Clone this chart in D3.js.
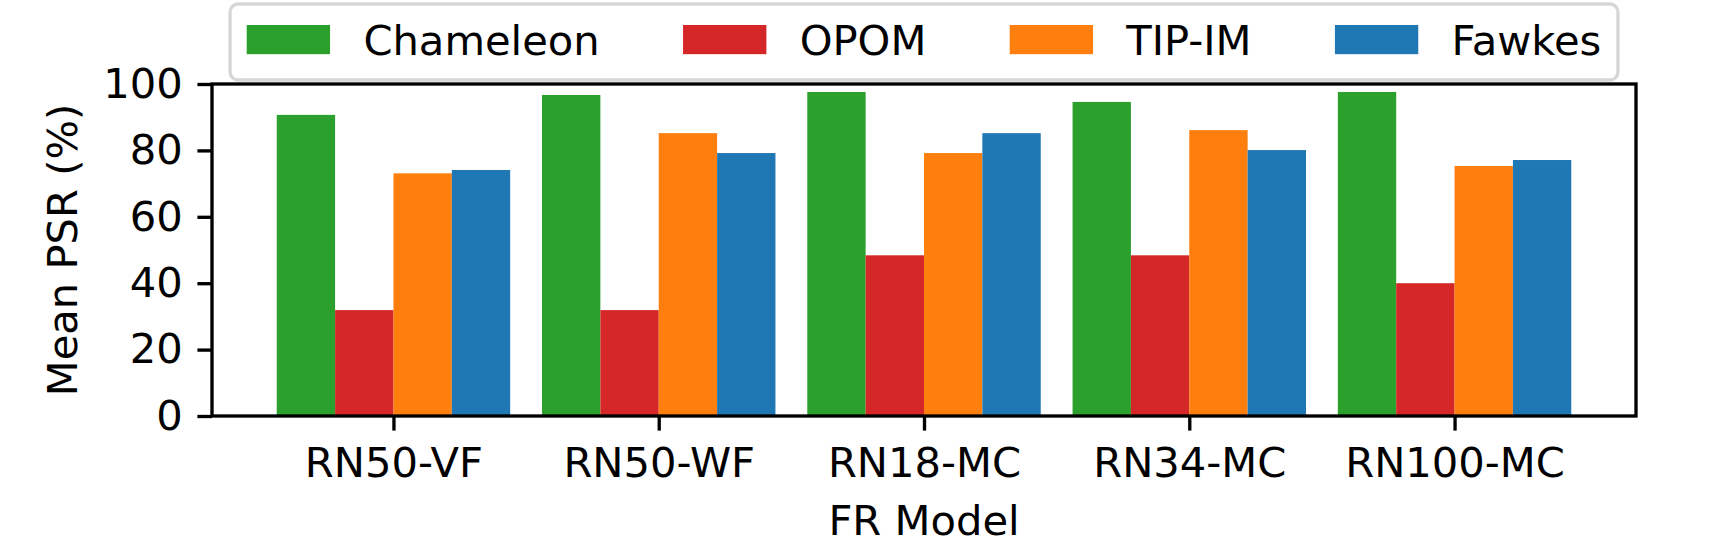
<!DOCTYPE html>
<html>
<head>
<meta charset="utf-8">
<script src="https://cdn.jsdelivr.net/npm/d3@7"></script>
<style>
  body { margin: 0; background: #fff; }
  text { font-family: "DejaVu Sans", sans-serif; }
</style>
</head>
<body>
<svg id="chart"></svg>
<script>
// Data
const models = ["RN50-VF", "RN50-WF", "RN18-MC", "RN34-MC", "RN100-MC"]
const methods = ["Chameleon", "OPOM", "TIP-IM", "Fawkes"]
const chameleon = [90.7, 96.7, 97.6, 94.6, 97.6]
const opom = [31.9, 31.9, 48.4, 48.4, 40.0]
const tipim = [73.1, 85.2, 79.2, 86.1, 75.3]
const fawkes = [74.1, 79.2, 85.2, 80.1, 77.1]
const yTicks = [0, 20, 40, 60, 80, 100]

const series = [chameleon, opom, tipim, fawkes]
const colors = ["#2ca02c", "#d62728", "#ff7f0e", "#1f77b4"]

const width = 1710
const height = 541
const fs = 41.67          // 10pt at 300 dpi
const lw = 3.33           // 0.8pt
const tick = 14.6         // 3.5pt
const margin = { left: 212, right: 74, top: 84, bottom: 125 }

const svg = d3.select("#chart")
  .attr("width", width)
  .attr("height", height)

const barW = 0.22
const half = barW * series.length / 2
const pad = 0.05 * (models.length - 1 + 2 * half)

const x = d3.scaleLinear()
  .domain([-half - pad, models.length - 1 + half + pad])
  .range([margin.left, width - margin.right])

const y = d3.scaleLinear()
  .domain([0, 100])
  .range([height - margin.bottom, margin.top])

// Bars
const rows = []
series.forEach((vals, s) => vals.forEach((v, i) => rows.push({ s, i, v })))

svg.append("g")
  .selectAll("rect")
  .data(rows)
  .join("rect")
    .attr("x", d => x(d.i - half + d.s * barW))
    .attr("width", d => x(barW) - x(0))
    .attr("y", d => y(d.v))
    .attr("height", d => y(0) - y(d.v))
    .attr("fill", d => colors[d.s])

// Axes
svg.append("g")
  .attr("transform", `translate(${margin.left},0)`)
  .call(d3.axisLeft(y).tickValues(yTicks).tickSize(tick).tickPadding(tick))
  .call(g => g.select(".domain").remove())
  .call(g => g.selectAll(".tick line").attr("stroke", "#000").attr("stroke-width", lw))
  .call(g => g.selectAll(".tick text")
    .attr("font-size", fs)
    .attr("font-family", "DejaVu Sans")
    .attr("fill", "#000"))

svg.append("g")
  .attr("transform", `translate(0,${y(0)})`)
  .call(d3.axisBottom(x).tickValues(d3.range(models.length)).tickFormat(i => models[i])
    .tickSize(tick).tickPadding(tick))
  .call(g => g.select(".domain").remove())
  .call(g => g.selectAll(".tick line").attr("stroke", "#000").attr("stroke-width", lw))
  .call(g => g.selectAll(".tick text")
    .attr("font-size", fs)
    .attr("font-family", "DejaVu Sans")
    .attr("fill", "#000")
    .attr("dy", "0.76em"))

// Frame drawn on top of bars
svg.append("rect")
  .attr("x", margin.left)
  .attr("y", margin.top)
  .attr("width", width - margin.right - margin.left)
  .attr("height", y(0) - margin.top)
  .attr("fill", "none")
  .attr("stroke", "#000")
  .attr("stroke-width", lw)

// Axis titles
svg.append("text")
  .attr("transform", `translate(77,${(margin.top + y(0)) / 2}) rotate(-90)`)
  .attr("text-anchor", "middle")
  .attr("font-size", fs)
  .text("Mean PSR (%)")

svg.append("text")
  .attr("x", (margin.left + width - margin.right) / 2)
  .attr("y", 535)
  .attr("text-anchor", "middle")
  .attr("font-size", fs)
  .text("FR Model")

// Legend, laid out like matplotlib (ncol = 4)
const handleW = 2 * fs, handleH = 0.7 * fs
const textPad = 0.8 * fs, colSpace = 2 * fs, borderPad = 0.4 * fs
const legend = svg.append("g")
const box = legend.append("rect")

const items = legend.selectAll("g")
  .data(methods)
  .join("g")

items.append("rect")
  .attr("width", handleW)
  .attr("height", handleH)
  .attr("y", 25)
  .attr("fill", (d, i) => colors[i])

items.append("text")
  .attr("x", handleW + textPad)
  .attr("y", 55)
  .attr("font-size", fs)
  .text(d => d)

const widths = items.nodes().map(n => handleW + textPad + n.querySelector("text").getComputedTextLength())
const legendW = d3.sum(widths) + colSpace * (methods.length - 1) + 2 * borderPad
const legendX = (margin.left + width - margin.right) / 2 - legendW / 2

let cx = legendX + borderPad
items.each(function (d, i) {
  d3.select(this).attr("transform", `translate(${cx},0)`)
  cx += widths[i] + colSpace
})

box.attr("x", legendX)
  .attr("y", 4)
  .attr("width", legendW)
  .attr("height", 76)
  .attr("rx", 8)
  .attr("fill", "#fff")
  .attr("stroke", "#d6d6d6")
  .attr("stroke-width", lw)
</script>
</body>
</html>
